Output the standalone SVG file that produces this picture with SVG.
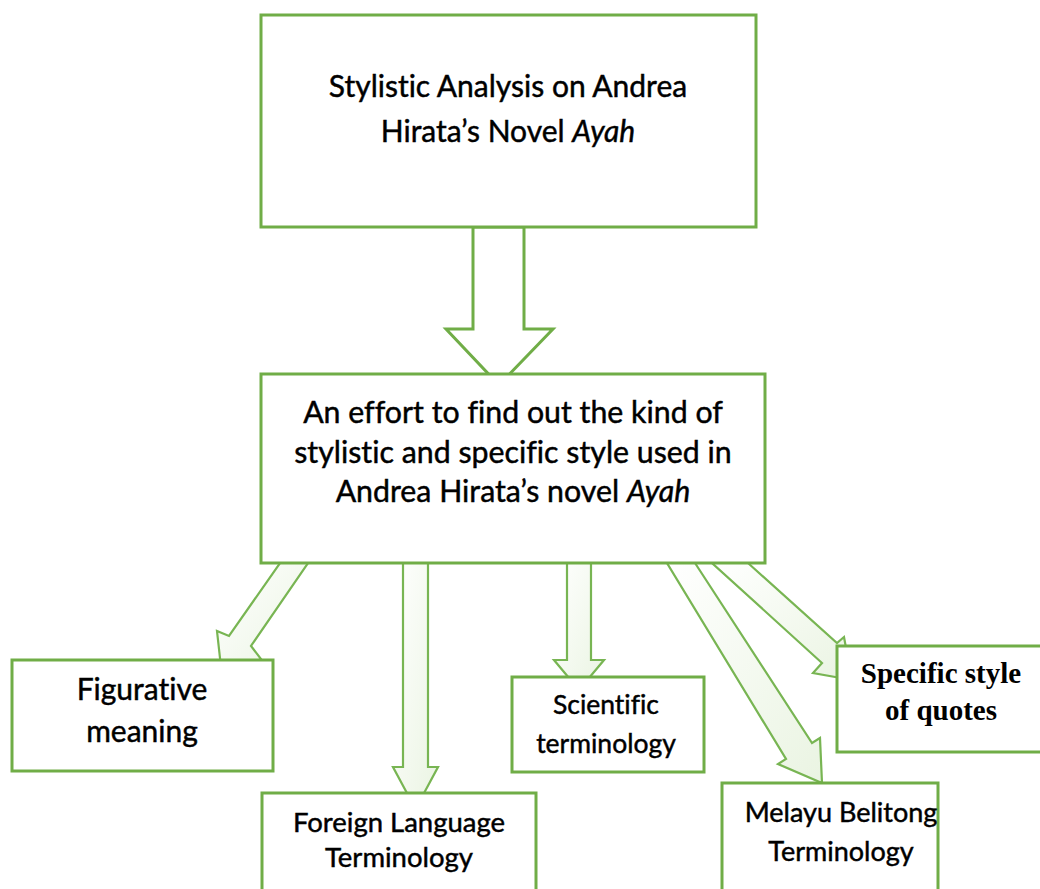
<svg xmlns="http://www.w3.org/2000/svg" width="1040" height="889" viewBox="0 0 1040 889">
<style>
.box{fill:#fff;stroke:#70AD47;stroke-width:3}
.big{fill:#fff;stroke:#70AD47;stroke-width:3;stroke-linejoin:miter}
.arr{fill:url(#g);stroke:#78b552;stroke-width:2.2;stroke-linejoin:miter;filter:url(#soft)}
.t{font-family:Lato,"Open Sans","Liberation Sans",sans-serif;fill:#000;stroke:#000;stroke-width:0.45;text-anchor:middle;font-variant-ligatures:none;font-feature-settings:"liga" 0}
.s{font-family:"Liberation Serif","Times New Roman",serif;font-weight:bold;fill:#000;text-anchor:middle}
</style>
<defs>
<linearGradient id="g" x1="0" y1="0" x2="1" y2="1">
<stop offset="0" stop-color="#ffffff"/>
<stop offset="1" stop-color="#eaf4e2"/>
</linearGradient>
<filter id="soft" x="-10%" y="-10%" width="120%" height="120%"><feGaussianBlur stdDeviation="0.6"/></filter>
</defs>
<g id="connectors">
<polygon class="big" points="473,227 524,227 524,329 553,329 499,385 446,329 473,329"/>
<polygon class="arr" points="280,563 308,563 251,646 261,659 222,676 217,631 229,636"/>
<polygon class="arr" points="403,563 428,563 428,767 438,767 415.5,809 393,767 403,767"/>
<polygon class="arr" points="567,563 591,563 591,660 604,660 579,690 554,660 567,660"/>
<polygon class="arr" points="667,563 695,563 812,743 820,738 822,783 778,764 786,759"/>
<polygon class="arr" points="712,563 748,563 837,643 844,637 852,680 813,673 822,663"/>
</g>
<g id="node-title">
<rect class="box" x="261" y="15" width="495" height="212"/>
<text class="t" font-size="30" x="508" y="97">Stylistic Analysis on Andrea</text>
<text class="t" font-size="30" x="508" y="142">Hirata’s Novel <tspan font-style="italic">Ayah</tspan></text>
</g>
<g id="node-effort">
<rect class="box" x="261" y="374" width="504" height="189"/>
<text class="t" font-size="30.3" x="513" y="423">An effort to find out the kind of</text>
<text class="t" font-size="30.3" x="513" y="463">stylistic and specific style used in</text>
<text class="t" font-size="30.3" x="513" y="502">Andrea Hirata’s novel <tspan font-style="italic">Ayah</tspan></text>
</g>
<g id="node-figurative">
<rect class="box" x="12" y="660" width="261" height="111"/>
<text class="t" font-size="30" x="142" y="700">Figurative</text>
<text class="t" font-size="30" x="142" y="742">meaning</text>
</g>
<g id="node-foreign">
<rect class="box" x="262" y="793" width="274" height="110"/>
<text class="t" font-size="27.5" x="399" y="832">Foreign Language</text>
<text class="t" font-size="27.5" x="399" y="867">Terminology</text>
</g>
<g id="node-scientific">
<rect class="box" x="512" y="677" width="192" height="95"/>
<text class="t" font-size="26.5" x="606" y="714">Scientific</text>
<text class="t" font-size="26.5" x="606" y="753">terminology</text>
</g>
<g id="node-melayu">
<rect class="box" x="722" y="783" width="216" height="120"/>
<text class="t" font-size="27" x="841" y="822">Melayu Belitong</text>
<text class="t" font-size="27" x="841" y="861">Terminology</text>
</g>
<g id="node-specific">
<rect class="box" x="837" y="646" width="220" height="106"/>
<text class="s" font-size="29" x="941" y="683">Specific style</text>
<text class="s" font-size="29" x="941" y="720">of quotes</text>
</g>
</svg>
